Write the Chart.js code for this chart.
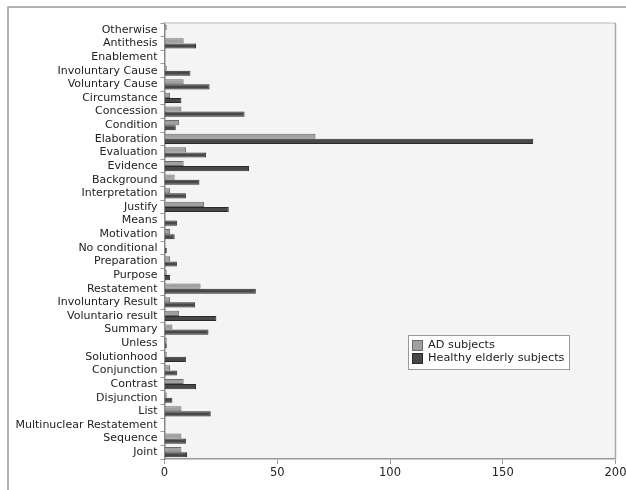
<!DOCTYPE html>
<html>
<head>
<meta charset="utf-8">
<script src="https://cdn.jsdelivr.net/npm/chart.js@4/dist/chart.umd.min.js"></script>
<style>
  html, body { margin: 0; padding: 0; background: #fff; }
  #wrap { width: 626px; height: 490px; position: relative; }
</style>
</head>
<body>
<div id="wrap"><canvas id="chart" width="626" height="490"></canvas></div>
<script>
// categories, top to bottom
const relations = [
    "Otherwise", "Antithesis", "Enablement", "Involuntary Cause", "Voluntary Cause",
    "Circumstance", "Concession", "Condition", "Elaboration", "Evaluation",
    "Evidence", "Background", "Interpretation", "Justify", "Means",
    "Motivation", "No conditional", "Preparation", "Purpose", "Restatement",
    "Involuntary Result", "Voluntario result", "Summary", "Unless", "Solutionhood",
    "Conjunction", "Contrast", "Disjunction", "List", "Multinuclear Restatement",
    "Sequence", "Joint"
];

const adSubjects = [
    1, 8.5, 0, 1, 8.5,
    2.5, 7.5, 6.5, 67, 9.5,
    8.5, 4.5, 2.5, 17.5, 0,
    2.5, 0, 2.5, 1, 16,
    2.5, 6.5, 3.5, 1, 1,
    2.5, 8.5, 1, 7.5, 0,
    7.5, 7.5
];

const healthySubjects = [
    0, 14, 0, 11.5, 20,
    7.5, 35.5, 5, 163.5, 18.5,
    37.5, 15.5, 9.5, 28.5, 5.5,
    4.5, 1, 5.5, 2.5, 40.5,
    13.5, 23, 19.5, 1, 9.5,
    5.5, 14, 3.5, 20.5, 0,
    9.5, 10
];

const xTicks = [0, 50, 100, 150, 200];

const FONT = "'DejaVu Sans', sans-serif";

// page frame + plot background
const framePlugin = {
    id: "frame",
    beforeDraw(chart) {
        const { ctx, chartArea: a } = chart;
        ctx.save();
        ctx.strokeStyle = "#9a9a9a";
        ctx.lineWidth = 1.5;
        ctx.beginPath();
        ctx.moveTo(8, 490);
        ctx.lineTo(8, 7);
        ctx.lineTo(626, 7);
        ctx.stroke();
        ctx.fillStyle = "#f4f4f4";
        ctx.fillRect(a.left, a.top, a.right - a.left, a.bottom - a.top);
        ctx.restore();
    },
    afterDatasetsDraw(chart) {
        const { ctx, chartArea: a } = chart;
        ctx.save();
        ctx.lineWidth = 1.5;
        ctx.strokeStyle = "#cfcfcf";
        ctx.beginPath();
        ctx.moveTo(a.left, a.top);
        ctx.lineTo(a.right, a.top);
        ctx.stroke();
        ctx.strokeStyle = "#a8a8a8";
        ctx.beginPath();
        ctx.moveTo(a.right, a.top);
        ctx.lineTo(a.right, a.bottom);
        ctx.stroke();
        ctx.restore();
    }
};

// legend drawn inside the plot, like the original
const insideLegend = {
    id: "insideLegend",
    afterDraw(chart) {
        const { ctx } = chart;
        const x = 408, y = 335, w = 161, h = 34;
        ctx.save();
        ctx.fillStyle = "#ffffff";
        ctx.fillRect(x, y, w, h);
        ctx.strokeStyle = "#999";
        ctx.lineWidth = 1;
        ctx.strokeRect(x + 0.5, y + 0.5, w, h);
        ctx.font = "11.3px " + FONT;
        ctx.textBaseline = "middle";
        chart.data.datasets.forEach((ds, i) => {
            const cy = y + 10 + i * 13;
            ctx.fillStyle = ds.backgroundColor;
            ctx.fillRect(x + 4, cy - 5, 10, 10);
            ctx.strokeStyle = ds.borderColor;
            ctx.strokeRect(x + 4.5, cy - 4.5, 10, 10);
            ctx.fillStyle = "#222";
            ctx.fillText(ds.label, x + 20, cy + 0.5);
        });
        ctx.restore();
    }
};

new Chart(document.getElementById("chart"), {
    type: "bar",
    data: {
        labels: relations,
        datasets: [
            {
                label: "AD subjects",
                data: adSubjects,
                backgroundColor: "#a0a0a0",
                borderColor: "#6a6a6a",
                borderWidth: ctx => (ctx.raw ? 1 : 0)
            },
            {
                label: "Healthy elderly subjects",
                data: healthySubjects,
                backgroundColor: "#484848",
                borderColor: "#2a2a2a",
                borderWidth: ctx => (ctx.raw ? 1 : 0)
            }
        ]
    },
    options: {
        indexAxis: "y",
        responsive: false,
        animation: false,
        categoryPercentage: 0.76,
        barPercentage: 1.0,
        layout: { padding: { top: 23, right: 0, left: 0, bottom: 0 } },
        plugins: {
            legend: { display: false },
            tooltip: { enabled: false }
        },
        scales: {
            x: {
                min: 0,
                max: 200,
                afterBuildTicks: scale => { scale.ticks = xTicks.map(v => ({ value: v })); },
                grid: { drawOnChartArea: false, drawTicks: true, tickLength: 5, color: "#999" },
                border: { color: "#999", width: 1.5 },
                ticks: { color: "#222", font: { family: FONT, size: 11.5 }, padding: 2 },
                afterFit: scale => { scale.height = 31; scale.paddingRight = 10.5; }
            },
            y: {
                grid: { drawOnChartArea: false, drawTicks: true, tickLength: 4, color: "#999", offset: true },
                border: { color: "#888", width: 1.5 },
                ticks: { color: "#222", font: { family: FONT, size: 11 }, padding: 3, autoSkip: false },
                afterFit: scale => { scale.width = 164.5; }
            }
        }
    },
    plugins: [framePlugin, insideLegend]
});
</script>
</body>
</html>
